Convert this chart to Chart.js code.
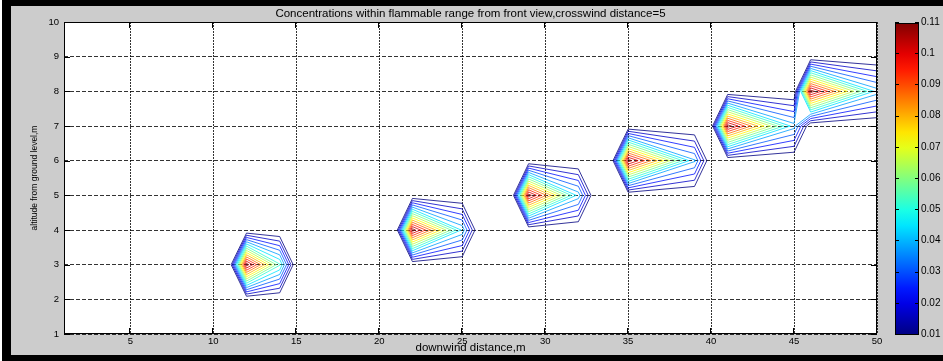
<!DOCTYPE html>
<html><head><meta charset="utf-8">
<script src="https://cdn.jsdelivr.net/npm/chart.js@4.4.0/dist/chart.umd.min.js"></script>
<style>
html,body{margin:0;padding:0;width:943px;height:361px;overflow:hidden;background:#000;}
#strip{position:absolute;left:0;top:0;width:2px;height:361px;background:#fff;}
#panel{position:absolute;left:11px;top:6px;width:932px;height:349px;background:#cccccc;}
#wrap{position:absolute;left:0;top:0;width:943px;height:361px;}
</style></head><body>
<div id="strip"></div><div id="panel"></div>
<div id="wrap"><canvas id="c" width="943" height="361"></canvas></div>
<script>
// ---------------- data ----------------
const titleText = 'Concentrations within flammable range from front view,crosswind distance=5';
const xAxisTitle = 'downwind distance,m';
const yAxisTitle = 'altitude from ground level,m';
const xTickValues = [5, 10, 15, 20, 25, 30, 35, 40, 45, 50];
const yTickValues = [1, 2, 3, 4, 5, 6, 7, 8, 9, 10];
const colorbarTicks = [0.01, 0.02, 0.03, 0.04, 0.05, 0.06, 0.07, 0.08, 0.09, 0.1, 0.11];
const contourLevels = [0.010, 0.017, 0.024, 0.031, 0.038, 0.045, 0.052, 0.059, 0.066, 0.073, 0.080, 0.087, 0.094, 0.101, 0.108];
// concentration grid nodes (x downwind, y altitude); nodes not listed below hold 0
const gridXNodes = [11, 12, 14, 15, 21, 22, 25, 26, 28, 29, 32, 33, 34, 35, 39, 40, 41, 45, 46, 50, 51];
const gridYNodes = [1, 2, 3, 4, 5, 6, 7, 8, 9, 10];
// per puff: source node, downwind node, upwind node
const sourceX    = [12, 22, 29, 35, 41, 46];
const sourceY    = [3, 4, 5, 6, 7, 8];
const sourceConc = [0.112, 0.112, 0.112, 0.112, 0.112, 0.112];
const downX      = [14, 25, 32, 39, 45, 50];
const downConc   = [0.053, 0.0435, 0.042, 0.039, 0.041, 0.0415];
const upX        = [11, 21, 28, 34, 40, 45];
const upConc     = [0.002, 0, 0, 0, 0, 0];
const cbMin = 0.01, cbMax = 0.11;

// ---------------- build grid table ----------------
const Z = gridYNodes.map(() => gridXNodes.map(() => 0));
function addNode(x, y, v) { Z[gridYNodes.indexOf(y)][gridXNodes.indexOf(x)] += v; }
for (let k = 0; k < sourceX.length; k++) {
  addNode(sourceX[k], sourceY[k], sourceConc[k]);
  addNode(downX[k], sourceY[k], downConc[k]);
  addNode(upX[k], sourceY[k], upConc[k]);
}

// contour tracing (marching squares) on the rectilinear grid
function contourSegments(level) {
  const gx = gridXNodes, gy = gridYNodes, segs = [];
  for (let j = 0; j < gy.length - 1; j++) for (let i = 0; i < gx.length - 1; i++) {
    const x0 = gx[i], x1 = gx[i + 1], y0 = gy[j], y1 = gy[j + 1];
    const a = Z[j][i], b = Z[j][i + 1], c = Z[j + 1][i + 1], d = Z[j + 1][i];
    const idx = (a > level ? 1 : 0) | (b > level ? 2 : 0) | (c > level ? 4 : 0) | (d > level ? 8 : 0);
    if (idx === 0 || idx === 15) continue;
    const pb = () => ({ x: x0 + (level - a) / (b - a) * (x1 - x0), y: y0 });
    const pr = () => ({ x: x1, y: y0 + (level - b) / (c - b) * (y1 - y0) });
    const pt = () => ({ x: x0 + (level - d) / (c - d) * (x1 - x0), y: y1 });
    const pl = () => ({ x: x0, y: y0 + (level - a) / (d - a) * (y1 - y0) });
    const ctr = (a + b + c + d) / 4;
    switch (idx) {
      case 1: case 14: segs.push([pl(), pb()]); break;
      case 2: case 13: segs.push([pb(), pr()]); break;
      case 3: case 12: segs.push([pl(), pr()]); break;
      case 4: case 11: segs.push([pr(), pt()]); break;
      case 6: case 9: segs.push([pb(), pt()]); break;
      case 7: case 8: segs.push([pl(), pt()]); break;
      case 5:
        if (ctr > level) { segs.push([pl(), pt()]); segs.push([pb(), pr()]); }
        else { segs.push([pl(), pb()]); segs.push([pr(), pt()]); }
        break;
      case 10:
        if (ctr > level) { segs.push([pl(), pb()]); segs.push([pr(), pt()]); }
        else { segs.push([pb(), pr()]); segs.push([pl(), pt()]); }
        break;
    }
  }
  return segs;
}
function chainSegments(segs) {
  const key = p => p.x.toFixed(5) + '_' + p.y.toFixed(5);
  const map = new Map();
  segs.forEach((s, k) => s.forEach(p => { const kk = key(p); if (!map.has(kk)) map.set(kk, []); map.get(kk).push(k); }));
  const used = segs.map(() => false), lines = [];
  for (let k = 0; k < segs.length; k++) {
    if (used[k]) continue;
    used[k] = true;
    const line = [segs[k][0], segs[k][1]];
    const extend = atEnd => {
      for (;;) {
        const p = atEnd ? line[line.length - 1] : line[0];
        const cands = (map.get(key(p)) || []).filter(m => !used[m]);
        if (!cands.length) break;
        const m = cands[0]; used[m] = true;
        const s = segs[m];
        const q = key(s[0]) === key(p) ? s[1] : s[0];
        if (atEnd) line.push(q); else line.unshift(q);
      }
    };
    extend(true); extend(false);
    lines.push(line);
  }
  return lines;
}
function jet(t) {
  const cl = v => Math.max(0, Math.min(1, v));
  const r = cl(Math.min(4 * t - 1.5, -4 * t + 4.5));
  const g = cl(Math.min(4 * t - 0.5, -4 * t + 3.5));
  const b = cl(Math.min(4 * t + 0.5, -4 * t + 2.5));
  return 'rgb(' + Math.round(r * 255) + ',' + Math.round(g * 255) + ',' + Math.round(b * 255) + ')';
}
const datasets = contourLevels.map(level => {
  const pts = [];
  chainSegments(contourSegments(level)).forEach(line => {
    line.forEach(p => pts.push(p));
    pts.push({ x: line[line.length - 1].x, y: null });
  });
  return {
    label: String(level), data: pts, borderColor: jet((level - cbMin) / (cbMax - cbMin)),
    borderWidth: 0.8, pointRadius: 0, fill: false, tension: 0, spanGaps: false,
    xAxisID: 'x', yAxisID: 'y'
  };
});

const FONT = "'Liberation Sans', Arial, Helvetica, sans-serif";
const figPlugin = {
  id: 'fig',
  beforeDraw(chart) {
    const { ctx, chartArea: a } = chart;
    ctx.save(); ctx.fillStyle = '#ffffff';
    ctx.fillRect(a.left, a.top, a.right - a.left, a.bottom - a.top);
    ctx.restore();
  },
  afterDraw(chart) {
    const { ctx, chartArea: a } = chart;
    const xs = chart.scales.x, ys = chart.scales.y, cb = chart.scales.cb;
    ctx.save();
    ctx.strokeStyle = '#000'; ctx.lineWidth = 1;
    ctx.strokeRect(a.left + 0.5, a.top + 0.5, a.right - a.left - 1, a.bottom - a.top - 1);
    const tl = 6;
    ctx.beginPath();
    xTickValues.forEach(v => {
      const px = Math.round(xs.getPixelForValue(v)) - 0.5;
      ctx.moveTo(px, a.bottom); ctx.lineTo(px, a.bottom - tl);
      ctx.moveTo(px, a.top); ctx.lineTo(px, a.top + tl);
    });
    yTickValues.forEach(v => {
      const py = Math.round(ys.getPixelForValue(v)) + 0.5;
      ctx.moveTo(a.left, py); ctx.lineTo(a.left + tl, py);
      ctx.moveTo(a.right, py); ctx.lineTo(a.right - tl, py);
    });
    ctx.stroke();
    // colour bar
    const top = Math.round(cb.getPixelForValue(cbMax)) + 1, bot = Math.round(cb.getPixelForValue(cbMin)) + 1;
    const x0 = Math.round(cb.left) + 18, w = 24;
    const g = ctx.createLinearGradient(0, bot, 0, top);
    for (let s = 0; s <= 20; s++) g.addColorStop(s / 20, jet(s / 20));
    ctx.fillStyle = g; ctx.fillRect(x0, top, w, bot - top);
    ctx.strokeStyle = '#000';
    ctx.strokeRect(x0 + 0.5, top + 0.5, w - 1, bot - top - 1);
    ctx.beginPath();
    colorbarTicks.forEach(v => {
      const py = Math.round(cb.getPixelForValue(v)) + 0.5;
      ctx.moveTo(x0, py); ctx.lineTo(x0 + 4, py);
      ctx.moveTo(x0 + w, py); ctx.lineTo(x0 + w - 4, py);
    });
    ctx.stroke();
    ctx.restore();
  }
};
const noPad = s => { s.paddingTop = 0; s.paddingBottom = 0; };

new Chart(document.getElementById('c'), {
  type: 'line',
  data: { datasets },
  options: {
    responsive: false, animation: false, events: [], devicePixelRatio: 1,
    layout: { padding: { left: 12, right: 0, top: 6, bottom: 6 } },
    plugins: {
      legend: { display: false }, tooltip: { enabled: false },
      title: { display: true, text: titleText, color: '#000', fullSize: false,
        font: { family: FONT, size: 11.5, weight: 'normal', lineHeight: '14px' }, padding: { top: 1, bottom: 1 } }
    },
    scales: {
      x: {
        type: 'linear', min: 1, max: 50, position: 'bottom',
        afterBuildTicks: s => { s.ticks = xTickValues.map(v => ({ value: v })); },
        afterFit: s => { s.height = 21; s.paddingLeft = 0; s.paddingRight = 0; },
        grid: { color: 'rgba(0,0,0,0.8)', lineWidth: 1, drawTicks: false },
        border: { display: false, dash: [2, 1] },
        ticks: { color: '#000', font: { family: FONT, size: 9.5 }, padding: 2, maxRotation: 0, autoSkip: false },
        title: { display: true, text: xAxisTitle, color: '#000', font: { family: FONT, size: 11.5, lineHeight: '14px' }, padding: { top: 0, bottom: 0 } }
      },
      y: {
        type: 'linear', min: 1, max: 10, position: 'left',
        afterBuildTicks: s => { s.ticks = yTickValues.map(v => ({ value: v })); },
        afterFit: s => { s.width = 52; noPad(s); },
        grid: { color: 'rgba(0,0,0,0.8)', lineWidth: 1, drawTicks: false },
        border: { display: false, dash: [4, 2] },
        ticks: { color: '#000', font: { family: FONT, size: 9.5 }, padding: 5, autoSkip: false },
        title: { display: true, text: yAxisTitle, color: '#000', font: { family: FONT, size: 8.5 }, padding: { top: 18, bottom: 0 } }
      },
      cb: {
        type: 'linear', axis: 'y', min: cbMin, max: cbMax, position: 'right',
        afterBuildTicks: s => { s.ticks = colorbarTicks.map(v => ({ value: v })); },
        afterFit: s => { s.width = 66; noPad(s); },
        grid: { display: false, drawTicks: false },
        border: { display: false },
        ticks: { color: '#000', font: { family: FONT, size: 10 }, padding: 44, autoSkip: false, callback: v => String(v) }
      }
    }
  },
  plugins: [figPlugin]
});
</script></body></html>
